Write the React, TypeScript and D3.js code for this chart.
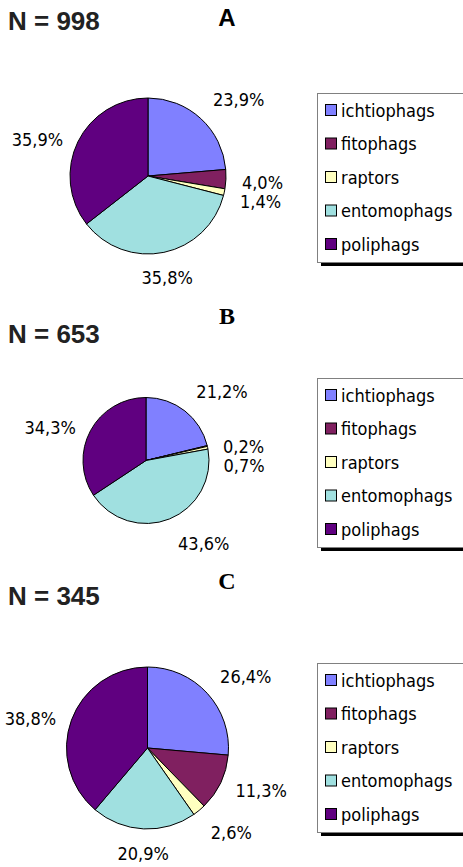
import React from "react";
import * as d3 from "d3";

const categories = ["ichtiophags", "fitophags", "raptors", "entomophags", "poliphags"];
const colors = ["#8080FF", "#802060", "#FFFFC0", "#A0E0E0", "#600080"];
const panelLetters = ["A", "B", "C"];
const sampleSizes = [998, 653, 345];
const valuesA = [23.9, 4.0, 1.4, 35.8, 35.9];
const valuesB = [21.2, 0.2, 0.7, 43.6, 34.3];
const valuesC = [26.4, 11.3, 2.6, 20.9, 38.8];
const seriesValues = [valuesA, valuesB, valuesC];

// layout (not data)
const layout = [
  { titleY: 30, letterY: 26, letterFont: "Liberation Sans", cx: 148, cy: 176, r: 78, legendTop: 93 },
  { titleY: 343, letterY: 324, letterFont: "Liberation Serif", cx: 146, cy: 460.5, r: 63, legendTop: 378 },
  { titleY: 605, letterY: 589, letterFont: "Liberation Serif", cx: 147.5, cy: 748, r: 81, legendTop: 663 },
];

const W = 463;
const H = 867;
const labelFont = "'DejaVu Sans Condensed', 'DejaVu Sans', sans-serif";
const labelSize = 18;

const clamp = (v: number, a: number, b: number) => Math.max(a, Math.min(b, v));
const fmt = (v: number) => v.toFixed(1).replace(".", ",") + "%";

function measure(text: string): number {
  if (typeof document === "undefined") return text.length * 10;
  const c = document.createElement("canvas").getContext("2d")!;
  c.font = `${labelSize}px 'DejaVu Sans Condensed', 'DejaVu Sans'`;
  return c.measureText(text).width;
}

function Panel({ idx }: { idx: number }) {
  const L = layout[idx];
  const vals = seriesValues[idx];
  const pie = d3.pie<number>().sort(null).value((d) => d);
  const arcs = pie(vals);
  const arcGen = d3.arc<d3.PieArcDatum<number>>().innerRadius(0).outerRadius(L.r);

  const h = 19;
  const labels = arcs.map((a, i) => {
    const th = (a.startAngle + a.endAngle) / 2;
    const s = Math.sin(th);
    const c = Math.cos(th);
    const rr = L.r + 12;
    const px = L.cx + rr * s;
    const py = L.cy - rr * c;
    const text = fmt(vals[i]);
    const w = measure(text);
    const fx = Math.sign(s) * clamp((Math.abs(s) - 0.2) / 0.15, 0, 1);
    let dy = 3;
    if (c > 0) dy = 3 - 13 * clamp((c - 0.5) / 0.2, 0, 1);
    else dy = 3 + 10 * clamp((-c - 0.5) / 0.2, 0, 1);
    return { x: px + fx * (w / 2 + 4), y: py + dy, text, side: s >= 0 ? 1 : -1 };
  });
  // simple collision avoidance on right side (top to bottom)
  for (let i = 1; i < labels.length; i++) {
    const p = labels[i - 1];
    const q = labels[i];
    if (p.side === 1 && q.side === 1 && Math.abs(q.x - p.x) < 40 && q.y - p.y < h) {
      q.y = p.y + h;
    }
  }

  const lx = 317;
  const lt = L.legendTop;
  const lh = 169;
  const lw = 160;
  const step = 33.5;

  return (
    <g>
      <text x={8} y={L.titleY} fontFamily="'Liberation Sans', Arial, sans-serif" fontWeight="bold" fontSize={26} fill="#222">
        {`N = ${sampleSizes[idx]}`}
      </text>
      <text x={227} y={L.letterY} textAnchor="middle" fontFamily={L.letterFont} fontWeight="bold" fontSize={24} fill="#000">
        {panelLetters[idx]}
      </text>
      <g>
        {arcs.map((a, i) => (
          <path key={i} d={arcGen(a) || ""} transform={`translate(${L.cx},${L.cy})`} fill={colors[i]} stroke="#000" strokeWidth={1} strokeLinejoin="round" />
        ))}
      </g>
      {labels.map((l, i) => (
        <text key={i} x={l.x} y={l.y} textAnchor="middle" dominantBaseline="central" fontFamily={labelFont} fontSize={labelSize} fill="#000">
          {l.text}
        </text>
      ))}
      <rect x={lx + 4} y={lt + 4} width={lw} height={lh} fill="#000" />
      <rect x={lx + 0.5} y={lt + 0.5} width={lw} height={lh} fill="#fff" stroke="#808080" strokeWidth={1} />
      {categories.map((cat, i) => {
        const yc = lt + 17 + i * step;
        return (
          <g key={cat}>
            <rect x={325.5} y={yc - 5.5} width={11} height={11} fill={colors[i]} stroke="#000" strokeWidth={1} />
            <text x={341} y={yc} dominantBaseline="central" fontFamily={labelFont} fontSize={labelSize} fill="#000">
              {cat}
            </text>
          </g>
        );
      })}
    </g>
  );
}

export default function App() {
  return (
    <svg width={W} height={H} style={{ position: "absolute", left: 0, top: 0, background: "#fff" }}>
      <rect x={0} y={0} width={W} height={H} fill="#fff" />
      {[0, 1, 2].map((i) => (
        <Panel key={i} idx={i} />
      ))}
    </svg>
  );
}
